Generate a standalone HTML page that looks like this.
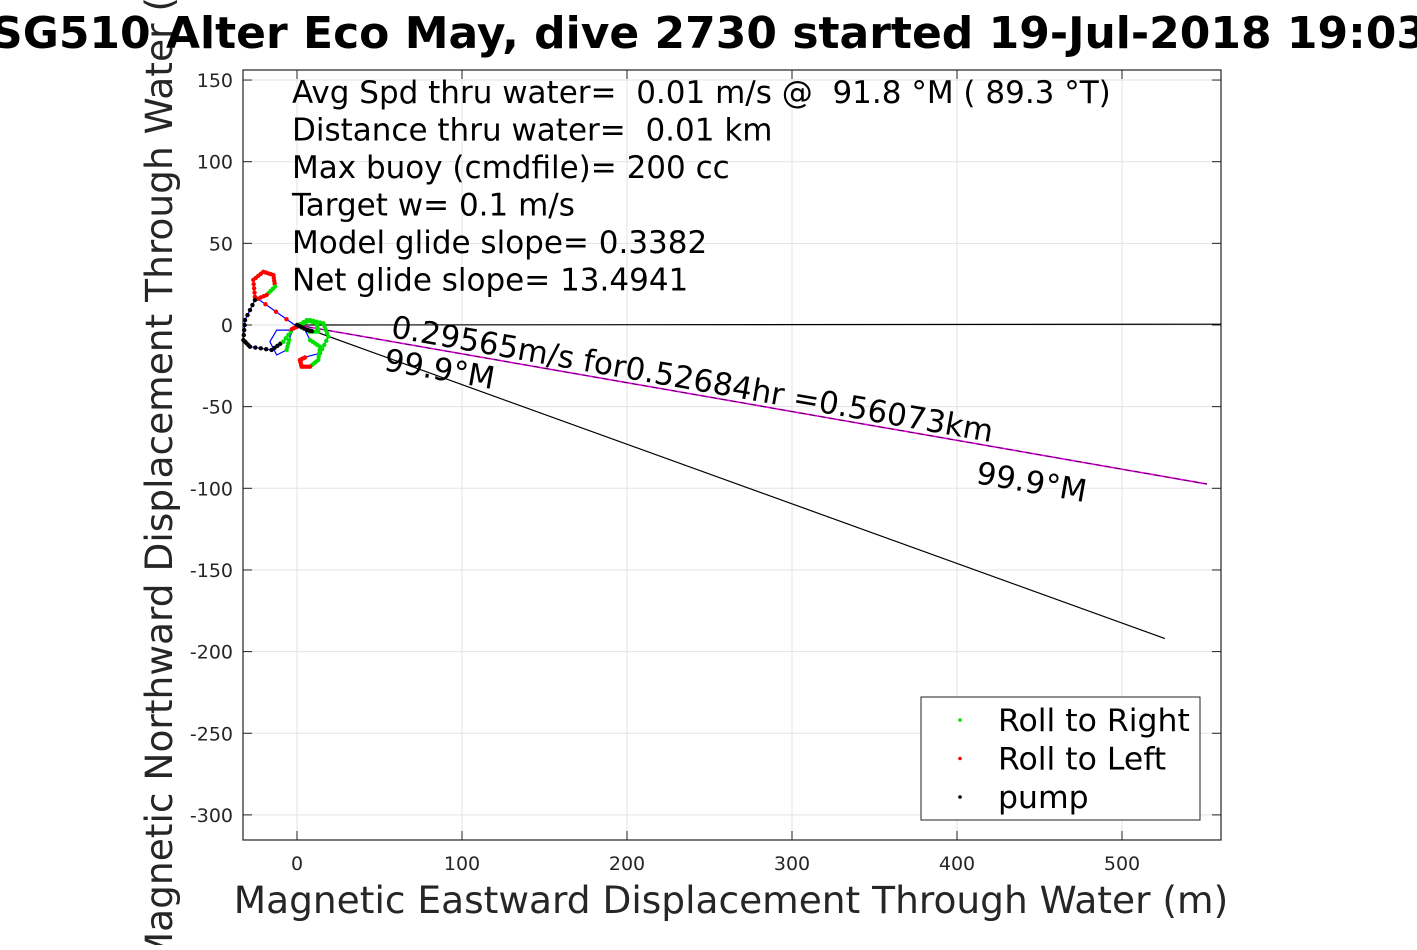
<!DOCTYPE html>
<html><head><meta charset="utf-8"><style>
body{margin:0;background:#fff;width:1417px;height:945px;overflow:hidden}
svg{font-family:"DejaVu Sans","Liberation Sans",sans-serif}
</style></head><body>
<svg id="c" width="1417" height="945"></svg>
<script>
const xTicks=[0,100,200,300,400,500];
const yTicks=[150,100,50,0,-50,-100,-150,-200,-250,-300];
const trackX=[0,-25.5,-26.5,-20.4,-14.3,-13.3,-18.4,-25.5,-31.5,-32.5,-28.5,-15.4,-8.3,-2.2,5.9,11.9,12.9,5.9,3.9,7.9,14,12.9,7.9,2.8,1.8,5.9,14,19,16,7.9,0,-4.2,-12.3,-16.4,-12.3,-6.3,-4.2,-2.2,0,6,10];
const trackY=[-1,17.3,27.6,32.6,30.6,23.5,18.4,15.3,3,-9.2,-13.3,-15.3,-10.2,-2,3,1,-4.1,-4.1,-1,-9.2,-13.3,-21.4,-25.5,-25.5,-21.4,-19.4,-17.3,-7.1,1,3,-1,-3.1,-3.1,-10.2,-18.4,-15.3,-7.1,-2,0,-3,-4];
const trackCls=["r","r","r","r","r","g","r","k","k","k","k","k","g","g","g","g","g","b","b","g","g","g","r","r","r","b","g","g","g","g","r","b","b","b","b","g","b","b","k","k","k"];
const modelEnd=[526,-192];
const currentEnd=[551.5,-97.4];
const horizEnd=[560,0.5];
const infoLines=["Avg Spd thru water=  0.01 m/s @  91.8 °M ( 89.3 °T)","Distance thru water=  0.01 km","Max buoy (cmdfile)= 200 cc","Target w= 0.1 m/s","Model glide slope= 0.3382","Net glide slope= 13.4941"];
const legendLabels=["Roll to Right","Roll to Left","pump"];
const legendColors=["#00e000","#ff0000","#000000"];

const L=243,R=1221,T=70,B=840;
const sx=v=>297+v*1.65, sy=v=>325-v*1.633;
const svg=document.getElementById('c');const NS="http://www.w3.org/2000/svg";
function mk(t,a,txt){const e=document.createElementNS(NS,t);for(const k in a)e.setAttribute(k,a[k]);if(txt!==undefined)e.textContent=txt;svg.appendChild(e);return e;}
let e;
e=mk('rect',{x:L,y:T,width:R-L,height:B-T,fill:'#fff'});


xTicks.forEach(v=>{
 e=mk('line',{x1:sx(v),x2:sx(v),y1:T,y2:B,stroke:'#e3e3e3'});
 
 
 mk('line',{x1:sx(v),x2:sx(v),y1:B,y2:B-9,stroke:'#222'});mk('line',{x1:sx(v),x2:sx(v),y1:T,y2:T+9,stroke:'#222'});
 e=mk('text',{x:sx(v),y:870,'text-anchor':'middle','font-size':19,fill:'#262626'},String(v));
 
 
});
yTicks.forEach(v=>{
 e=mk('line',{x1:L,x2:R,y1:sy(v),y2:sy(v),stroke:'#e3e3e3'});
 
 
 mk('line',{x1:L,x2:L+9,y1:sy(v),y2:sy(v),stroke:'#222'});mk('line',{x1:R,x2:R-9,y1:sy(v),y2:sy(v),stroke:'#222'});
 e=mk('text',{x:233,y:sy(v)+7,'text-anchor':'end','font-size':19,fill:'#262626'},String(v));
 
 
});
e=mk('rect',{x:L,y:T,width:R-L,height:B-T,fill:'none',stroke:'#222','stroke-width':1.2});


e=mk('line',{x1:sx(0),y1:sy(0),x2:sx(horizEnd[0]),y2:sy(horizEnd[1]),stroke:'#000','stroke-width':1.2});


e=mk('line',{x1:sx(0),y1:sy(0),x2:sx(currentEnd[0]),y2:sy(currentEnd[1]),stroke:'#e000e0','stroke-width':1.6});


e=mk('line',{x1:sx(0),y1:sy(0),x2:sx(currentEnd[0]),y2:sy(currentEnd[1]),stroke:'#000','stroke-width':0.6,'stroke-dasharray':'6 4'});


e=mk('line',{x1:sx(0),y1:sy(0),x2:sx(modelEnd[0]),y2:sy(modelEnd[1]),stroke:'#000','stroke-width':1.2});


let d='';trackX.forEach((v,i)=>{d+=(i?'L':'M')+sx(v).toFixed(1)+' '+sy(trackY[i]).toFixed(1);});
e=mk('path',{d:d,fill:'none',stroke:'#0000ff','stroke-width':1.2,'stroke-linejoin':'round'});


const cmap={r:'#ff0000',g:'#00e000',k:'#000000'};
for(let i=0;i<trackX.length-1;i++){const c=trackCls[i];if(!cmap[c])continue;
 for(let t=0;t<1;t+=0.25){const x=trackX[i]+(trackX[i+1]-trackX[i])*t,y=trackY[i]+(trackY[i+1]-trackY[i])*t;
 e=mk('circle',{cx:sx(x),cy:sy(y),r:2.2,fill:cmap[c]});
 
 }}
const ang=Math.atan2(sy(currentEnd[1])-sy(0),sx(currentEnd[0])-sx(0))*180/Math.PI;
e=mk('text',{x:390,y:337,'font-size':31,transform:`rotate(${ang} 390 337)`},'0.29565m/s for0.52684hr =0.56073km');


e=mk('text',{x:383,y:370,'font-size':31,transform:`rotate(${ang} 383 370)`},'99.9°M');


e=mk('text',{x:975,y:483,'font-size':31,transform:`rotate(${ang} 975 483)`},'99.9°M');


infoLines.forEach((s,i)=>{e=mk('text',{x:292,y:103+i*37.5,'font-size':31,style:'white-space:pre'},s);
 
 });
e=mk('rect',{x:921,y:697,width:279,height:123,fill:'#fff',stroke:'#222'});


legendLabels.forEach((s,i)=>{
 e=mk('circle',{cx:960,cy:720+i*38.5,r:1.8,fill:legendColors[i]});
 
 
 e=mk('text',{x:998,y:731+i*38.5,'font-size':31.5},s);
 
 
});
e=mk('text',{x:731,y:913,'text-anchor':'middle','font-size':37.5,fill:'#262626'},'Magnetic Eastward Displacement Through Water (m)');


e=mk('text',{x:0,y:0,'text-anchor':'middle','font-size':37.5,fill:'#262626',transform:'translate(172 455) rotate(-90)'},'Magnetic Northward Displacement Through Water (m)');


e=mk('text',{x:709,y:48,'text-anchor':'middle','font-size':44,'font-weight':'bold'},'SG510 Alter Eco May, dive 2730 started 19-Jul-2018 19:03');


</script>
</body></html>
